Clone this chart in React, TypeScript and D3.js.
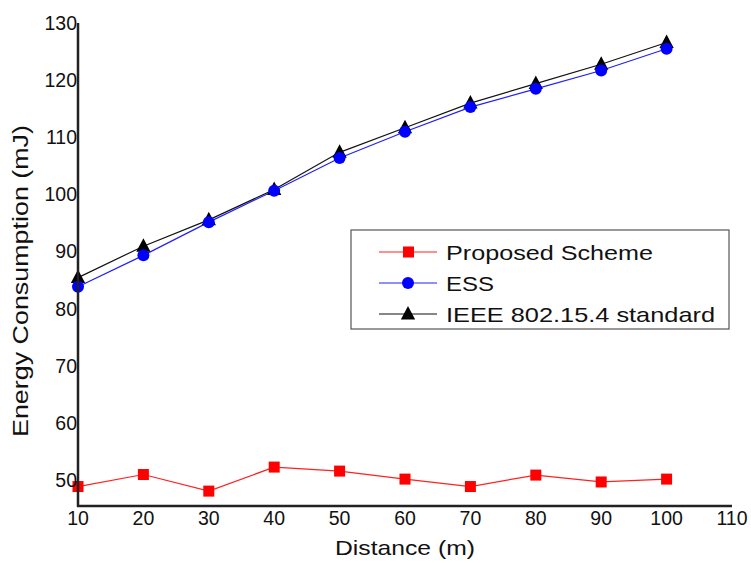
import React from "react";
import * as d3 from "d3";

const distances = [10, 20, 30, 40, 50, 60, 70, 80, 90, 100];
const proposed = [49.0, 51.1, 48.2, 52.4, 51.7, 50.3, 49.0, 51.0, 49.8, 50.3];
const ess = [83.9, 89.4, 95.2, 100.7, 106.4, 111.0, 115.3, 118.5, 121.7, 125.5];
const ieee = [85.5, 91.0, 95.6, 100.9, 107.4, 111.7, 116.0, 119.4, 122.8, 126.6];
const xTicks = [10, 20, 30, 40, 50, 60, 70, 80, 90, 100, 110];
const yTicks = [50, 60, 70, 80, 90, 100, 110, 120, 130];
const seriesNames = ["Proposed Scheme", "ESS", "IEEE 802.15.4 standard"];

const W = 751;
const H = 563;
const left = 78;
const right = 732;
const top = 23;
const bottom = 506;

export default function App() {
  const x = d3.scaleLinear().domain([10, 110]).range([left, right]);
  const y = d3.scaleLinear().domain([45.6, 130]).range([bottom, top]);
  const font = "Arial, 'Liberation Sans', sans-serif";

  const mk = (vals: number[]) =>
    d3
      .line<number>()
      .x((_, i) => x(distances[i]))
      .y((v) => y(v))(vals) as string;

  const tri = (cx: number, cy: number, s: number) =>
    `M${cx},${cy - s * 0.62} L${cx + s * 0.55},${cy + s * 0.42} L${cx - s * 0.55},${cy + s * 0.42} Z`;

  const legendX = 351;
  const legendY = 230;
  const rowY = [252, 283, 314];
  const legendLens = [207, 48, 269];

  return (
    <svg width={W} height={H} style={{ position: "absolute", left: 0, top: 0, background: "#fff" }}>
      <rect x={0} y={0} width={W} height={H} fill="#fff" />
      {/* series lines */}
      <path d={mk(proposed)} fill="none" stroke="#ff2020" strokeWidth={1.2} />
      <path d={mk(ess)} fill="none" stroke="#2020ff" strokeWidth={1.2} />
      <path d={mk(ieee)} fill="none" stroke="#111" strokeWidth={1.2} />
      {/* markers */}
      {proposed.map((v, i) => (
        <rect key={"p" + i} x={x(distances[i]) - 5.5} y={y(v) - 5.5} width={11} height={11} fill="#ff0000" />
      ))}
      {ieee.map((v, i) => (
        <path key={"t" + i} d={tri(x(distances[i]), y(v), 13)} fill="#000" />
      ))}
      {ess.map((v, i) => (
        <circle key={"e" + i} cx={x(distances[i])} cy={y(v)} r={6} fill="#0000ff" />
      ))}
      {/* axes */}
      <line x1={left} y1={top} x2={left} y2={bottom + 1} stroke="#222" strokeWidth={2.5} />
      <line x1={left - 1} y1={bottom} x2={right} y2={bottom} stroke="#222" strokeWidth={2.5} />
      {yTicks.map((t) => (
        <text key={"y" + t} x={left - 1} y={y(t) + 6.5} textAnchor="end" fontFamily={font} fontSize={19.5} fill="#111">
          {t}
        </text>
      ))}
      {xTicks.map((t) => (
        <text key={"x" + t} x={x(t)} y={bottom + 18.5} textAnchor="middle" fontFamily={font} fontSize={19.5} fill="#111">
          {t}
        </text>
      ))}
      <text
        x={335}
        y={555}
        fontFamily={font}
        fontSize={21}
        fill="#111"
        textLength={140}
        lengthAdjust="spacingAndGlyphs"
      >
        Distance (m)
      </text>
      <text
        transform={`translate(28,437) rotate(-90)`}
        fontFamily={font}
        fontSize={22.5}
        fill="#111"
        textLength={312}
        lengthAdjust="spacingAndGlyphs"
      >
        Energy Consumption (mJ)
      </text>
      {/* legend */}
      <rect x={legendX} y={legendY} width={378} height={99} fill="#fff" stroke="#555" strokeWidth={1.2} />
      {seriesNames.map((name, i) => {
        const color = i === 0 ? "#ff2020" : i === 1 ? "#2020ff" : "#111";
        const cy = rowY[i];
        return (
          <g key={name}>
            <line x1={379} x2={437} y1={cy} y2={cy} stroke={color} strokeWidth={1.2} />
            {i === 0 && <rect x={403} y={cy - 5.5} width={11} height={11} fill="#ff0000" />}
            {i === 1 && <circle cx={408} cy={cy} r={6} fill="#0000ff" />}
            {i === 2 && <path d={tri(408, cy, 13)} fill="#000" />}
            <text
              x={446}
              y={cy + 8}
              fontFamily={font}
              fontSize={21}
              fill="#111"
              textLength={legendLens[i]}
              lengthAdjust="spacingAndGlyphs"
            >
              {name}
            </text>
          </g>
        );
      })}
    </svg>
  );
}
